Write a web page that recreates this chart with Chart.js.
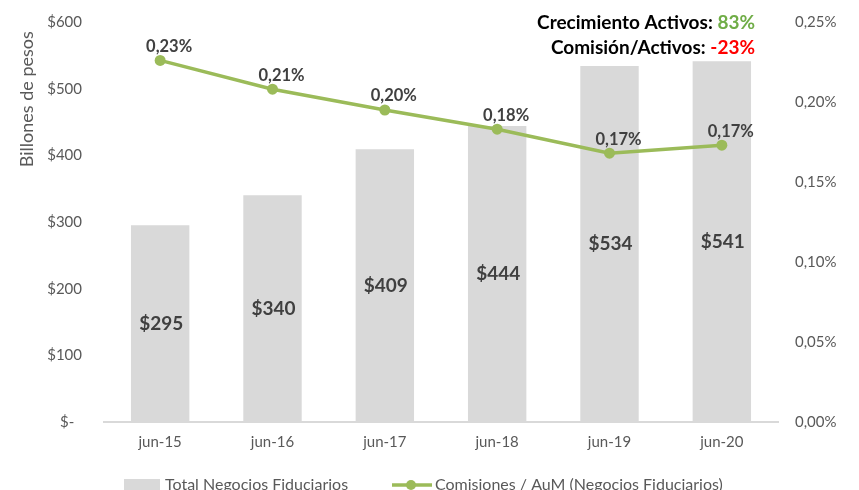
<!DOCTYPE html>
<html>
<head>
<meta charset="utf-8">
<script src="https://cdn.jsdelivr.net/npm/chart.js@4.4.0/dist/chart.umd.min.js"></script>
<style>
  html, body { margin: 0; padding: 0; background: #fff; overflow: hidden; }
  #wrap { width: 859px; height: 490px; overflow: hidden; }
</style>
</head>
<body>
<div id="wrap"><canvas id="fiduChart" width="859" height="510"></canvas></div>
<script>
const categories = ['jun-15', 'jun-16', 'jun-17', 'jun-18', 'jun-19', 'jun-20'];
const totalNegocios = [295, 340, 409, 444, 534, 541];
// comisiones / AuM, in percent
const comisionesAum = [0.226, 0.208, 0.195, 0.183, 0.168, 0.173];
const resumenLineas = [
  { label: 'Crecimiento Activos: ', value: '83%', color: '#70ad47' },
  { label: 'Comisión/Activos: ', value: '-23%', color: '#ff0000' },
];

const FONT = 'Lato, "Open Sans", sans-serif';
const GRAY_TXT = '#595959';
const BAR_COLOR = '#d9d9d9';
const LINE_COLOR = '#9bbb59';

const pctFmt = (v, d) => v.toFixed(d).replace('.', ',') + '%';

// keep tick padding from pushing the chart area down
const trimPadding = (scale) => {
  scale.paddingTop = 8;
  scale.paddingBottom = 8;
};

// value labels on bars and points
const valueLabels = {
  id: 'valueLabels',
  afterDatasetsDraw(chart) {
    const c = chart.ctx;
    c.save();
    c.textAlign = 'center';
    c.textBaseline = 'middle';
    c.fillStyle = '#404040';

    const bars = chart.getDatasetMeta(0).data;
    c.font = 'bold 19px ' + FONT;
    bars.forEach((b, i) => {
      c.fillText('$' + totalNegocios[i], b.x + 1, (b.y + b.base) / 2);
    });

    const pts = chart.getDatasetMeta(1).data;
    c.font = 'bold 16.5px ' + FONT;
    pts.forEach((p, i) => {
      c.fillText(pctFmt(comisionesAum[i], 2), p.x + 9, p.y - 14);
    });
    c.restore();
  },
};

// top-right summary text and bottom legend
const extras = {
  id: 'extras',
  afterDraw(chart) {
    const c = chart.ctx;
    c.save();
    c.textBaseline = 'middle';
    c.font = 'bold 19px ' + FONT;
    const right = 755;
    resumenLineas.forEach((ln, i) => {
      const y = 23 + i * 25;
      const w = c.measureText(ln.value).width;
      c.textAlign = 'right';
      c.fillStyle = ln.color;
      c.fillText(ln.value, right, y);
      c.fillStyle = '#000';
      c.fillText(ln.label, right - w, y);
    });

    // legend
    const ly = 485;
    c.font = '16px ' + FONT;
    c.textAlign = 'left';
    c.fillStyle = BAR_COLOR;
    c.fillRect(124, ly - 6, 36, 13);
    c.fillStyle = GRAY_TXT;
    c.fillText(chart.data.datasets[0].label, 165, ly);

    c.strokeStyle = LINE_COLOR;
    c.lineWidth = 3.5;
    c.beginPath();
    c.moveTo(392, ly);
    c.lineTo(432, ly);
    c.stroke();
    c.fillStyle = LINE_COLOR;
    c.beginPath();
    c.arc(411, ly, 5, 0, Math.PI * 2);
    c.fill();
    c.fillStyle = GRAY_TXT;
    c.fillText(chart.data.datasets[1].label, 435, ly);
    c.restore();
  },
};

const ctx = document.getElementById('fiduChart').getContext('2d');

new Chart(ctx, {
  data: {
    labels: categories,
    datasets: [
      {
        type: 'bar',
        label: 'Total Negocios Fiduciarios',
        data: totalNegocios,
        yAxisID: 'y',
        backgroundColor: BAR_COLOR,
        categoryPercentage: 1,
        barPercentage: 0.52,
        order: 2,
      },
      {
        type: 'line',
        label: 'Comisiones / AuM (Negocios Fiduciarios)',
        data: comisionesAum,
        yAxisID: 'y1',
        borderColor: LINE_COLOR,
        backgroundColor: LINE_COLOR,
        borderWidth: 3.5,
        pointRadius: 5.5,
        pointBackgroundColor: LINE_COLOR,
        pointBorderWidth: 0,
        tension: 0,
        order: 1,
      },
    ],
  },
  options: {
    responsive: false,
    animation: false,
    layout: { padding: { top: 22, left: 0, right: 0, bottom: 0 } },
    plugins: {
      legend: { display: false },
      tooltip: { enabled: false },
    },
    scales: {
      x: {
        grid: { display: false, drawTicks: false },
        border: { color: BAR_COLOR, width: 2 },
        ticks: { color: GRAY_TXT, font: { family: FONT, size: 15 }, padding: 11 },
        afterFit(scale) { scale.height = 88; },
      },
      y: {
        position: 'left',
        min: 0,
        max: 600,
        grid: { display: false, drawTicks: false },
        border: { display: false },
        ticks: {
          stepSize: 100,
          padding: 22,
          color: GRAY_TXT,
          font: { family: FONT, size: 15 },
          callback: (v) => (v === 0 ? '$-  ' : '$' + v),
        },
        title: {
          display: true,
          text: 'Billones de pesos  ',
          align: 'end',
          color: GRAY_TXT,
          font: { family: FONT, size: 18 },
          padding: { top: 16, bottom: 0 },
        },
        afterFit(scale) {
          scale.width = 104;
          trimPadding(scale);
        },
      },
      y1: {
        position: 'right',
        min: 0,
        max: 0.25,
        grid: { display: false, drawTicks: false },
        border: { display: false },
        ticks: {
          stepSize: 0.05,
          padding: 17,
          color: GRAY_TXT,
          font: { family: FONT, size: 15 },
          callback: (v) => pctFmt(v, 2),
        },
        afterFit(scale) {
          scale.width = 859 - 778;
          trimPadding(scale);
        },
      },
    },
  },
  plugins: [valueLabels, extras],
});
</script>
</body>
</html>
